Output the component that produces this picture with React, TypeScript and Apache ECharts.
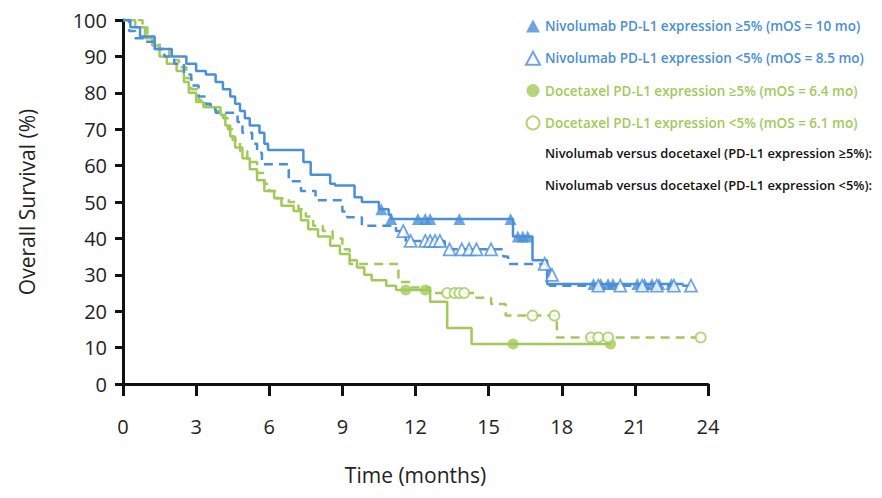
import React, { useEffect, useRef } from "react";
import * as echarts from "echarts";

const BLUE = "#4a8fd8";
const GREEN = "#a2c95a";

const xTicks = [0, 3, 6, 9, 12, 15, 18, 21, 24];

const legendNames = [
  "Nivolumab PD-L1 expression \u22655% (mOS = 10 mo)",
  "Nivolumab PD-L1 expression <5% (mOS = 8.5 mo)",
  "Docetaxel PD-L1 expression \u22655% (mOS = 6.4 mo)",
  "Docetaxel PD-L1 expression <5% (mOS = 6.1 mo)",
];
const noteLines = [
  "Nivolumab versus docetaxel (PD-L1 expression \u22655%):",
  "Nivolumab versus docetaxel (PD-L1 expression <5%):",
];

// Kaplan-Meier step curves: [month, survival %]
const nivoHigh = [
  [0, 100], [0.3, 98], [0.7, 95.5], [1.3, 92], [2.0, 90], [2.6, 88], [3.0, 86], [3.4, 85],
  [3.8, 83], [4.1, 81], [4.4, 79], [4.6, 77], [4.8, 75], [5.0, 73], [5.2, 71], [5.6, 69],
  [5.8, 66], [5.95, 64.3], [7.4, 61], [7.7, 57.5], [8.5, 55], [8.7, 54.5], [9.5, 51.3],
  [9.8, 50], [10.5, 48], [10.9, 46.5], [11.0, 45.3], [16.0, 40.5], [16.8, 34], [17.4, 27.5],
  [23.0, 27.5],
];
const nivoLow = [
  [0, 100], [0.25, 97], [0.5, 95], [0.9, 94], [1.3, 92], [1.7, 90], [2.1, 88], [2.5, 85],
  [2.8, 82], [3.1, 79], [3.4, 77], [3.6, 75.5], [3.8, 74.5], [4.7, 72], [4.9, 69], [5.3, 66],
  [5.5, 63.5], [5.7, 60.4], [6.8, 55.7], [7.3, 53], [7.9, 50.5], [9.0, 47.4], [9.2, 45.8],
  [9.8, 43.5], [11.2, 42], [11.6, 39.3], [13.2, 37], [15.6, 35], [15.8, 33], [17.5, 27],
  [23.3, 27],
];
const doceHigh = [
  [0, 100], [0.5, 98], [0.9, 95], [1.2, 93], [1.5, 90], [1.8, 88], [2.2, 86], [2.5, 83],
  [2.7, 80], [3.0, 77.5], [3.3, 76], [4.0, 74], [4.2, 71], [4.4, 68], [4.6, 65], [4.9, 62],
  [5.2, 59], [5.5, 56], [5.8, 53], [6.2, 51], [6.5, 49], [7.0, 47.5], [7.3, 45], [7.6, 42.5],
  [8.0, 40.5], [8.5, 38], [8.9, 35.7], [9.3, 34], [9.6, 32], [9.9, 30], [10.2, 28.5],
  [10.8, 27], [11.2, 25.8], [12.6, 22.6], [13.3, 15.4], [14.3, 11], [20.0, 11],
];
const doceLow = [
  [0, 100], [0.8, 98], [1.0, 96], [1.2, 94], [1.5, 92], [1.9, 89], [2.3, 87], [2.6, 84],
  [2.8, 81], [3.1, 78], [3.3, 76.5], [3.8, 75], [4.1, 73], [4.3, 70], [4.5, 67], [4.8, 64],
  [5.1, 61], [5.5, 58], [5.8, 55], [6.0, 53], [6.3, 51], [6.8, 50], [7.2, 48], [7.5, 46],
  [7.8, 43.5], [8.2, 42], [8.6, 40], [9.0, 37], [9.3, 33], [11.3, 28], [11.8, 26.5],
  [12.6, 25], [14.5, 23.7], [15.1, 22], [15.7, 18.8], [17.8, 12.8], [23.7, 12.8],
];

// Censor marks: [month, survival %]
const nivoHighCens = [
  [10.6, 48], [11.0, 45.3], [12.1, 45.3], [12.4, 45.3], [12.6, 45.3], [13.8, 45.3], [15.9, 45.3],
  [16.2, 40.5], [16.4, 40.5], [16.6, 40.5], [19.3, 27.5], [19.6, 27.5], [19.9, 27.5], [20.1, 27.5],
  [21.1, 27.5], [21.4, 27.5], [21.7, 27.5], [22.0, 27.5], [22.5, 27.5],
];
const nivoLowCens = [
  [11.5, 42], [11.8, 39.3], [12.4, 39.3], [12.6, 39.3], [12.8, 39.3], [13.0, 39.3], [13.4, 37],
  [13.9, 37], [14.2, 37], [14.5, 37], [15.1, 37], [17.3, 33], [17.6, 30], [19.5, 27], [20.4, 27],
  [21.3, 27], [21.9, 27], [22.6, 27], [23.3, 27],
];
const doceHighCens = [[11.6, 25.8], [12.4, 25.8], [16.0, 11], [20.0, 11]];
const doceLowCens = [
  [13.3, 25], [13.6, 25], [13.8, 25], [14.0, 25], [16.8, 18.8], [17.7, 18.8], [19.2, 12.8],
  [19.5, 12.8], [19.9, 12.8], [23.7, 12.8],
];

const FONT = "Open Sans";

export default function App() {
  const ref = useRef<HTMLDivElement>(null);
  useEffect(() => {
    if (!ref.current) return;
    const chart = echarts.init(ref.current, null, { renderer: "svg" });
    const lineSeries = (data: number[][], color: string, dashed: boolean, z: number) => ({
      type: "line",
      step: "end",
      data,
      showSymbol: false,
      symbol: "none",
      lineStyle: { color, width: 2.5, type: dashed ? [9, 6] : "solid" },
      z,
      silent: true,
    });
    const censSeries = (name: string, data: number[][], color: string, symbol: string, open: boolean, size: number, z: number) => ({
      type: "scatter",
      name,
      data,
      symbol,
      symbolSize: size,
      itemStyle: open
        ? { color: "#ffffff", borderColor: color, borderWidth: 1.8 }
        : { color, borderColor: color, borderWidth: 0 },
      z,
    });
    chart.setOption({
      animation: false,
      backgroundColor: "#ffffff",
      grid: { left: 113, right: 166, top: 12, bottom: 86 },
      legend: {
        orient: "vertical",
        left: 512,
        top: 6,
        itemWidth: 14,
        itemHeight: 13,
        itemGap: 17.8,
        selectedMode: false,
        data: [
          { name: legendNames[0], textStyle: { color: BLUE } },
          { name: legendNames[1], textStyle: { color: BLUE } },
          { name: legendNames[2], textStyle: { color: GREEN } },
          { name: legendNames[3], textStyle: { color: GREEN } },
        ],
        textStyle: { fontFamily: FONT, fontSize: 13.5, fontWeight: 600 },
      },
      graphic: noteLines.map((t, i) => ({
        type: "text",
        left: 537,
        top: 138 + i * 32.5,
        style: { text: t, fill: "#111", font: `600 12.9px "${FONT}"` },
      })),
      xAxis: {
        type: "value",
        min: 0,
        max: 24,
        interval: 3,
        name: "Time (months)",
        nameLocation: "middle",
        nameGap: 80,
        nameTextStyle: { fontFamily: FONT, fontSize: 21, color: "#222" },
        axisLine: { lineStyle: { color: "#111", width: 3 } },
        axisTick: { length: 12, lineStyle: { color: "#111", width: 3 } },
        axisLabel: {
          fontFamily: FONT, fontSize: 20, color: "#222", margin: 32,
          formatter: (v: number) => (xTicks.includes(v) ? String(v) : ""),
        },
        splitLine: { show: false },
      },
      yAxis: {
        type: "value",
        min: 0,
        max: 100,
        interval: 10,
        name: "Overall Survival (%)",
        nameLocation: "middle",
        nameGap: 86,
        nameTextStyle: { fontFamily: FONT, fontSize: 21, color: "#222" },
        axisLine: { show: true, lineStyle: { color: "#111", width: 3 } },
        axisTick: { show: true, length: 8, lineStyle: { color: "#111", width: 3 } },
        axisLabel: { fontFamily: FONT, fontSize: 20, color: "#222", margin: 16 },
        splitLine: { show: false },
      },
      series: [
        lineSeries(doceLow, GREEN, true, 2),
        lineSeries(doceHigh, GREEN, false, 2),
        lineSeries(nivoLow, BLUE, true, 3),
        lineSeries(nivoHigh, BLUE, false, 3),
        censSeries(legendNames[0], nivoHighCens, BLUE, "triangle", false, 12, 5),
        censSeries(legendNames[1], nivoLowCens, BLUE, "triangle", true, 12, 5),
        censSeries(legendNames[2], doceHighCens, GREEN, "circle", false, 11, 4),
        censSeries(legendNames[3], doceLowCens, GREEN, "circle", true, 10, 4),
      ],
    });
    return () => chart.dispose();
  }, []);
  return <div ref={ref} style={{ width: 866, height: 482 }} />;
}
